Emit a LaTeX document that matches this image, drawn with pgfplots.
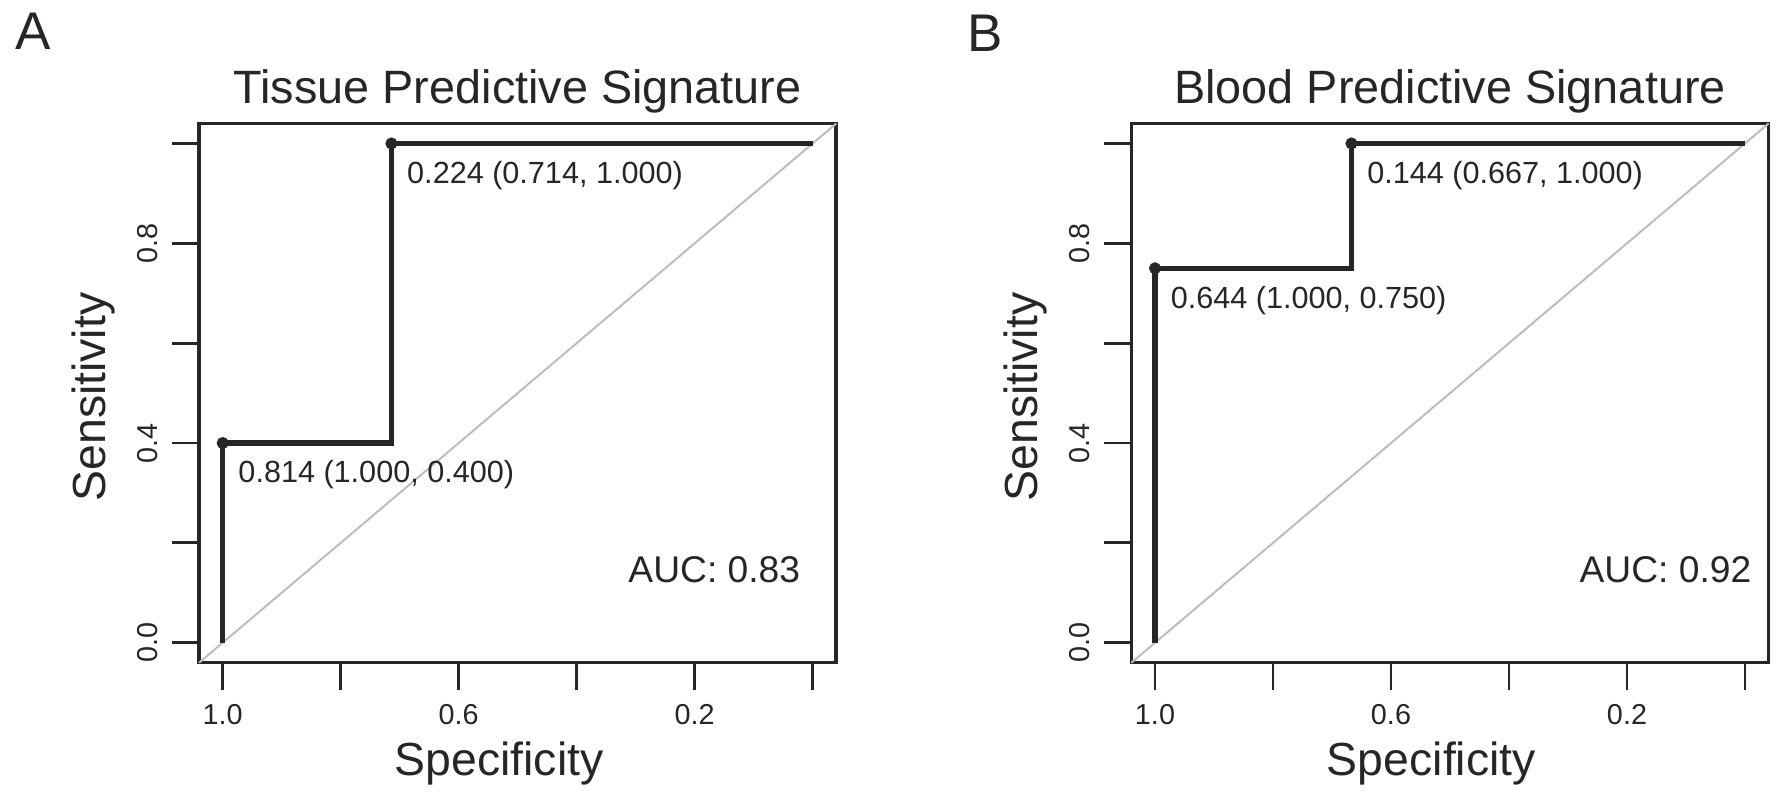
\documentclass[border=0pt]{standalone}
\usepackage{fontspec}
\setmainfont{Liberation Sans}
\usepackage{pgfplots}
\usepackage{pgfplotstable}
\pgfplotsset{compat=1.18}

\definecolor{fg}{HTML}{262626}
\definecolor{diag}{HTML}{BDBDBD}

\pgfplotstableread{
x y
1 0
1 0.4
0.714 0.4
0.714 1
0 1
}\tissueroc
\pgfplotstableread{
x y
1 0.4
0.714 1
}\tissuepts
\pgfplotstableread{
x y
1 0
1 0.75
0.667 0.75
0.667 1
0 1
}\bloodroc
\pgfplotstableread{
x y
1 0.75
0.667 1
}\bloodpts

\pgfplotsset{
 rocaxis/.style={
  scale only axis, width=159.3pt, height=134.8pt,
  xmin=-0.04, xmax=1.04, ymin=-0.04, ymax=1.04,
  x dir=reverse,
  axis line style={fg, line width=0.9pt},
  xtick={0,0.2,0.4,0.6,0.8,1},
  xticklabels={,0.2,,0.6,,1.0},
  ytick={0,0.2,0.4,0.6,0.8,1},
  yticklabels={0.0,,0.4,,0.8,},
  tick align=outside,
  major tick length=6.8pt,
  tick style={fg, line width=0.7pt},
  xtick pos=bottom, ytick pos=left,
  tick label style={font=\fontsize{7.2}{8}\selectfont, text=fg},
  yticklabel style={rotate=90, anchor=south},
  clip=false,
 },
}
\tikzset{
 ann/.style={anchor=north west, inner sep=0pt, font=\fontsize{7.65}{8.5}\selectfont, text=fg},
 auc/.style={anchor=base east, inner sep=0pt, font=\fontsize{9.3}{10}\selectfont, text=fg},
 lab/.style={anchor=base, inner sep=0pt, font=\fontsize{11.6}{13}\selectfont, text=fg},
 ttl/.style={anchor=base, inner sep=0pt, font=\fontsize{11.7}{13}\selectfont, text=fg},
}

\begin{document}
\begin{tikzpicture}
\begin{axis}[rocaxis, at={(49.775pt,34.825pt)}, anchor=south west]
  \addplot[diag, line width=0.5pt] coordinates {(1.04,-0.04) (-0.04,1.04)};
  \addplot[fg, line width=1.3pt] table {\tissueroc};
  \addplot[only marks, mark=*, mark size=1.3pt, fg] table {\tissuepts};
  \node[ann] at ([xshift=3.75pt,yshift=-4.25pt]axis cs:1,0.4) {0.814 (1.000, 0.400)};
  \node[ann] at ([xshift=3.75pt,yshift=-4.25pt]axis cs:0.714,1) {0.224 (0.714, 1.000)};
  \node[auc] at (axis cs:0.02,0.12) {AUC: 0.83};
  \node[ttl] at ([yshift=5.05pt]axis description cs:0.5,1) {Tissue Predictive Signature};
  \node[lab] at ([xshift=-4.65pt,yshift=-28.1pt]axis description cs:0.5,0) {Specificity};
  \node[lab, rotate=90] at ([xshift=-23.5pt,yshift=-1pt]axis description cs:0,0.5) {Sensitivity};
\end{axis}
\begin{axis}[rocaxis, at={(282.85pt,34.825pt)}, anchor=south west]
  \addplot[diag, line width=0.5pt] coordinates {(1.04,-0.04) (-0.04,1.04)};
  \addplot[fg, line width=1.3pt] table {\bloodroc};
  \addplot[only marks, mark=*, mark size=1.3pt, fg] table {\bloodpts};
  \node[ann] at ([xshift=3.75pt,yshift=-4.25pt]axis cs:1,0.75) {0.644 (1.000, 0.750)};
  \node[ann] at ([xshift=3.75pt,yshift=-4.25pt]axis cs:0.667,1) {0.144 (0.667, 1.000)};
  \node[auc] at (axis cs:-0.012,0.12) {AUC: 0.92};
  \node[ttl] at ([yshift=5.05pt]axis description cs:0.5,1) {Blood Predictive Signature};
  \node[lab] at ([xshift=-4.65pt,yshift=-28.1pt]axis description cs:0.5,0) {Specificity};
  \node[lab, rotate=90] at ([xshift=-23.5pt,yshift=-1pt]axis description cs:0,0.5) {Sensitivity};
\end{axis}
\node[anchor=base west, inner sep=0pt, font=\fontsize{13.25}{15}\selectfont, text=fg] at (3.75pt,188pt) {A};
\node[anchor=base west, inner sep=0pt, font=\fontsize{13.25}{15}\selectfont, text=fg] at (241.75pt,187.5pt) {B};
\pgfresetboundingbox
\path (0,0) rectangle (444.25pt,200.5pt);
\end{tikzpicture}
\end{document}
